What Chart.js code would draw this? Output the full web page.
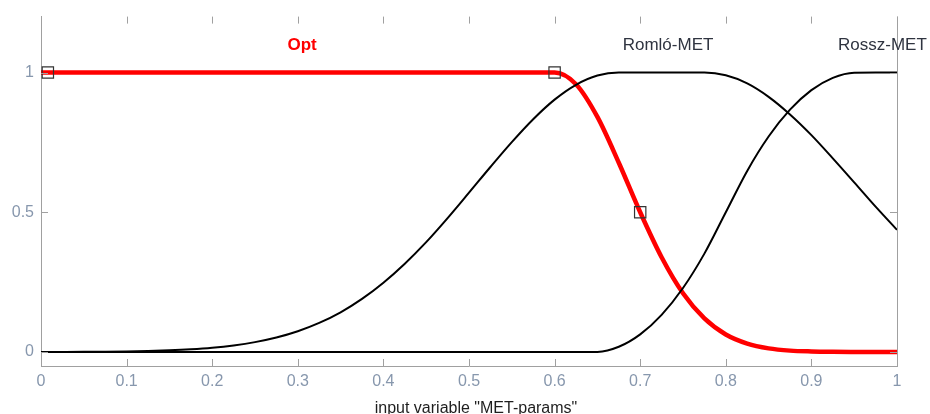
<!DOCTYPE html>
<html>
<head>
<meta charset="utf-8">
<script src="https://cdn.jsdelivr.net/npm/chart.js@4"></script>
<style>
  html, body { margin: 0; padding: 0; background: #fff; }
  #wrap { width: 930px; height: 414px; position: relative; }
</style>
</head>
<body>
<div id="wrap"><canvas id="mfChart"></canvas></div>
<script>
// membership functions of the input "MET-params"
let xGrid = [0, 0.025, 0.05, 0.075, 0.1, 0.125, 0.15, 0.175, 0.2, 0.225,
    0.25, 0.275, 0.3, 0.325, 0.35, 0.375, 0.4, 0.425, 0.45, 0.475,
    0.5, 0.525, 0.55, 0.575, 0.6, 0.625, 0.65, 0.675, 0.7, 0.725,
    0.75, 0.775, 0.8, 0.825, 0.85, 0.875, 0.9, 0.925, 0.95, 0.975, 1];

let optValues = [1, 1, 1, 1, 1, 1, 1, 1, 1, 1,
    1, 1, 1, 1, 1, 1, 1, 1, 1, 1,
    1, 1, 1, 1, 1, 0.958, 0.841, 0.677, 0.5, 0.339,
    0.21, 0.12, 0.0625, 0.03, 0.013, 0.005, 0.002, 0.0007, 0.0002, 0.0001, 0];

let romloValues = [0.0002, 0.0004, 0.0007, 0.0013, 0.0022, 0.0037, 0.0061, 0.0098, 0.0153, 0.0236,
    0.0354, 0.0518, 0.0743, 0.104, 0.142, 0.19, 0.248, 0.316, 0.393, 0.479,
    0.57, 0.662, 0.751, 0.833, 0.903, 0.956, 0.989, 1, 1, 1,
    1, 1, 0.99, 0.961, 0.913, 0.85, 0.776, 0.693, 0.607, 0.52, 0.437];

let rosszValues = [0, 0, 0, 0, 0, 0, 0, 0, 0, 0,
    0, 0, 0, 0, 0, 0, 0, 0, 0, 0,
    0, 0, 0, 0, 0, 0, 0.0005, 0.0187, 0.063, 0.133,
    0.229, 0.352, 0.5, 0.648, 0.771, 0.867, 0.937, 0.981, 0.9995, 1, 1];

let mfNames = ['Opt', 'Romló-MET', 'Rossz-MET'];
let mfLabelX = [0.305, 0.7325, 0.983];

// selected-function vertex markers
let markerX = [0.008, 0.6, 0.7];
let markerY = [1, 1, 0.5];

let xTicks = [0, 0.1, 0.2, 0.3, 0.4, 0.5, 0.6, 0.7, 0.8, 0.9, 1];
let yTicks = [0, 0.5, 1];

let axisTitle = 'input variable "MET-params"';

const FONT = '"Liberation Sans", Arial, sans-serif';
const AXIS_COLOR = '#a0a0a0';
const TICK_LABEL_COLOR = '#8797ad';

function toPoints(xs, ys) {
    return xs.map((x, i) => ({ x: x, y: ys[i] }));
}

// inward ticks, right border, curve names and axis title
const decorPlugin = {
    id: 'decor',
    afterDraw(chart) {
        const ctx = chart.ctx;
        const xs = chart.scales.x;
        const ys = chart.scales.y;
        const a = chart.chartArea;
        const tl = 7;
        ctx.save();
        ctx.strokeStyle = AXIS_COLOR;
        ctx.lineWidth = 1;
        ctx.beginPath();
        ctx.moveTo(a.right + 0.5, a.top);
        ctx.lineTo(a.right + 0.5, a.bottom);
        xTicks.forEach(v => {
            const px = Math.round(xs.getPixelForValue(v)) + 0.5;
            ctx.moveTo(px, a.bottom);
            ctx.lineTo(px, a.bottom - tl);
            ctx.moveTo(px, a.top);
            ctx.lineTo(px, a.top + tl);
        });
        yTicks.forEach(v => {
            const py = Math.round(ys.getPixelForValue(v)) + 0.5;
            ctx.moveTo(a.left, py);
            ctx.lineTo(a.left + tl, py);
            ctx.moveTo(a.right, py);
            ctx.lineTo(a.right - tl, py);
        });
        ctx.stroke();

        ctx.textAlign = 'center';
        ctx.textBaseline = 'alphabetic';
        mfNames.forEach((name, i) => {
            const isOpt = i === 0;
            ctx.font = (isOpt ? 'bold ' : '') + '17px ' + FONT;
            ctx.fillStyle = isOpt ? '#ff0000' : '#2f3440';
            ctx.fillText(name, xs.getPixelForValue(mfLabelX[i]), a.top + 33);
        });

        ctx.font = '16px ' + FONT;
        ctx.fillStyle = '#1e1e1e';
        ctx.fillText(axisTitle, (a.left + a.right) / 2 + 7, 413);
        ctx.restore();
    }
};

let mfCtx = document.getElementById('mfChart').getContext('2d');
let mfChart = new Chart(mfCtx, {
    type: 'scatter',
    data: {
        datasets: [{
            label: 'markers',
            data: toPoints(markerX, markerY),
            showLine: false,
            pointStyle: 'rect',
            pointRadius: 8,
            pointBorderColor: '#333333',
            pointBackgroundColor: 'rgba(0,0,0,0)',
            pointBorderWidth: 1.2,
            order: 0
        }, {
            label: mfNames[1],
            data: toPoints(xGrid, romloValues),
            showLine: true,
            borderColor: '#000000',
            borderWidth: 2,
            pointRadius: 0,
            cubicInterpolationMode: 'monotone',
            order: 1
        }, {
            label: mfNames[2],
            data: toPoints(xGrid, rosszValues),
            showLine: true,
            borderColor: '#000000',
            borderWidth: 2,
            pointRadius: 0,
            cubicInterpolationMode: 'monotone',
            order: 2
        }, {
            label: mfNames[0],
            data: toPoints(xGrid, optValues),
            showLine: true,
            borderColor: '#ff0000',
            borderWidth: 4.5,
            pointRadius: 0,
            cubicInterpolationMode: 'monotone',
            order: 3
        }]
    },
    options: {
        responsive: true,
        maintainAspectRatio: false,
        animation: false,
        events: [],
        layout: { padding: { top: 14, right: 33, left: 0, bottom: 0 } },
        plugins: {
            legend: { display: false },
            tooltip: { enabled: false }
        },
        scales: {
            x: {
                type: 'linear',
                min: 0,
                max: 1,
                afterBuildTicks: s => { s.ticks = xTicks.map(v => ({ value: v })); },
                afterFit: s => { s.height = 48; },
                grid: { display: false, drawTicks: false },
                border: { display: true, color: AXIS_COLOR, width: 1 },
                ticks: {
                    padding: 6,
                    color: TICK_LABEL_COLOR,
                    font: { family: FONT, size: 16 },
                    maxRotation: 0,
                    callback: v => String(v)
                }
            },
            y: {
                type: 'linear',
                min: -0.05,
                max: 1.2,
                afterBuildTicks: s => { s.ticks = yTicks.map(v => ({ value: v })); },
                afterFit: s => { s.width = 41; },
                grid: { display: false, drawTicks: false },
                border: { display: true, color: AXIS_COLOR, width: 1 },
                ticks: {
                    padding: 7,
                    color: TICK_LABEL_COLOR,
                    font: { family: FONT, size: 16 },
                    callback: v => String(v)
                }
            }
        }
    },
    plugins: [decorPlugin]
});
</script>
</body>
</html>
